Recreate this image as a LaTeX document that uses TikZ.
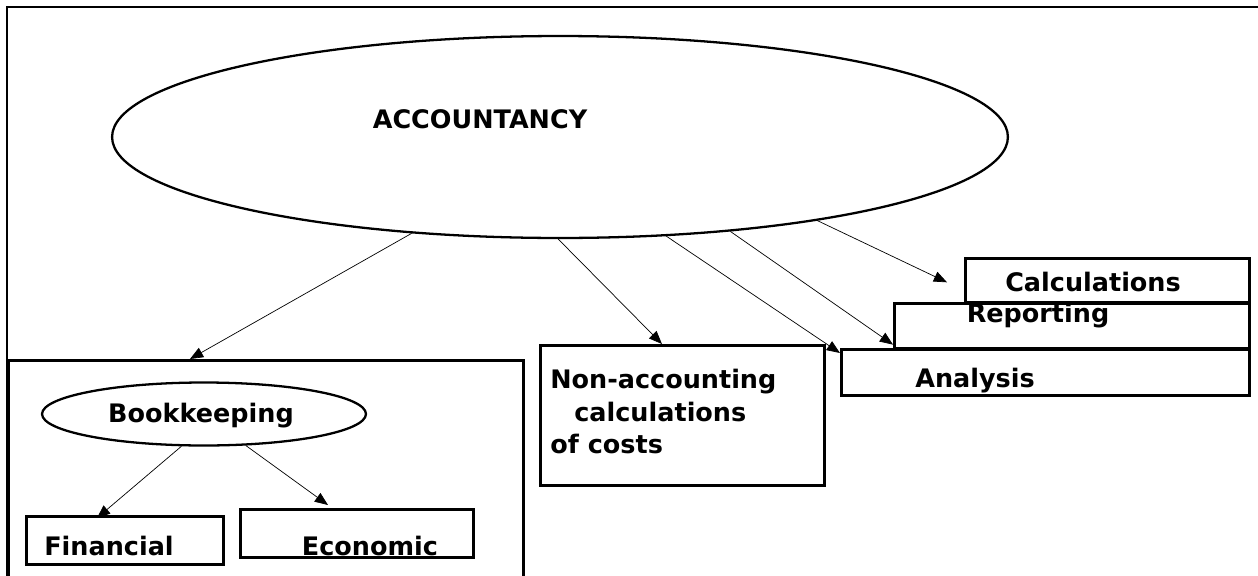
\documentclass[tikz,border=0pt]{standalone}
\usepackage{fontspec}
\setmainfont{DejaVu Sans}
\usetikzlibrary{arrows.meta,shapes.geometric}

\begin{document}
\begin{tikzpicture}[x=0.02cm,y=-0.02cm,
	>={Triangle[length=7.5pt,width=6pt]},
	frame/.style={draw,line width=1.3pt},
	box/.style={draw,line width=1.5pt,rectangle,inner sep=0pt,anchor=north west},
	oval/.style={draw,line width=1.3pt,ellipse,inner sep=0pt},
	word/.style={font=\fontsize{14.5}{18.5}\selectfont\bfseries,inner sep=0pt,anchor=base},
	link/.style={->,line width=0.4pt}]
\useasboundingbox (0,0) rectangle (1258,575);
\draw[frame] (7,7) rectangle (1300,620);

\node[oval,minimum width=17.92cm,minimum height=4.04cm] (acc) at (560,137) {};
\node[word] (acctext) at (480,128) {ACCOUNTANCY};

\node[box,minimum width=10.3cm,minimum height=6cm] (bkbox) at (7,359) {};
\node[oval,minimum width=6.48cm,minimum height=1.26cm] (bkell) at (204,414) {};
\node[word] (bktext) at (201,422) {Bookkeeping};
\node[box,minimum width=3.94cm,minimum height=0.96cm] (finbox) at (25,515) {};
\node[word] (fintext) at (109,555) {Financial};
\node[box,minimum width=4.66cm,minimum height=0.96cm] (ecobox) at (239,508) {};
\node[word] (ecotext) at (370,555) {Economic};

\node[box,minimum width=5.68cm,minimum height=2.8cm] (nabox) at (539,344) {};
\node[word,anchor=north west,align=left] (natext) at (550,369)
	{Non-accounting\\\hspace*{0.48cm}calculations\\of costs};

\node[box,minimum width=5.68cm,minimum height=0.88cm] (clbox) at (964,257) {};
\node[word] (cltext) at (1093,291) {Calculations};
\node[box,minimum width=7.1cm,minimum height=0.9cm] (rpbox) at (893,302) {};
\node[word] (rptext) at (1038,322) {Reporting};
\node[box,minimum width=8.16cm,minimum height=0.92cm] (anbox) at (840,348) {};
\node[word] (antext) at (975,387) {Analysis};

\path[link]
(acc.213.5) edge ([xshift=3.66cm]bkbox.north west)
(acc.269) edge ([xshift=2.46cm]nabox.north west)
(acc.317) edge ([yshift=-0.1cm]anbox.north west)
(acc.331.2) edge ([yshift=0.1cm]rpbox.south west)
(acc.342.4) edge ([xshift=-0.34cm,yshift=-0.04cm]clbox.west)
(bkell.235.8) edge ([xshift=1.44cm,yshift=-0.06cm]finbox.north west)
(bkell.323.1) edge ([xshift=1.78cm,yshift=0.06cm]ecobox.north west);
\end{tikzpicture}
\end{document}
